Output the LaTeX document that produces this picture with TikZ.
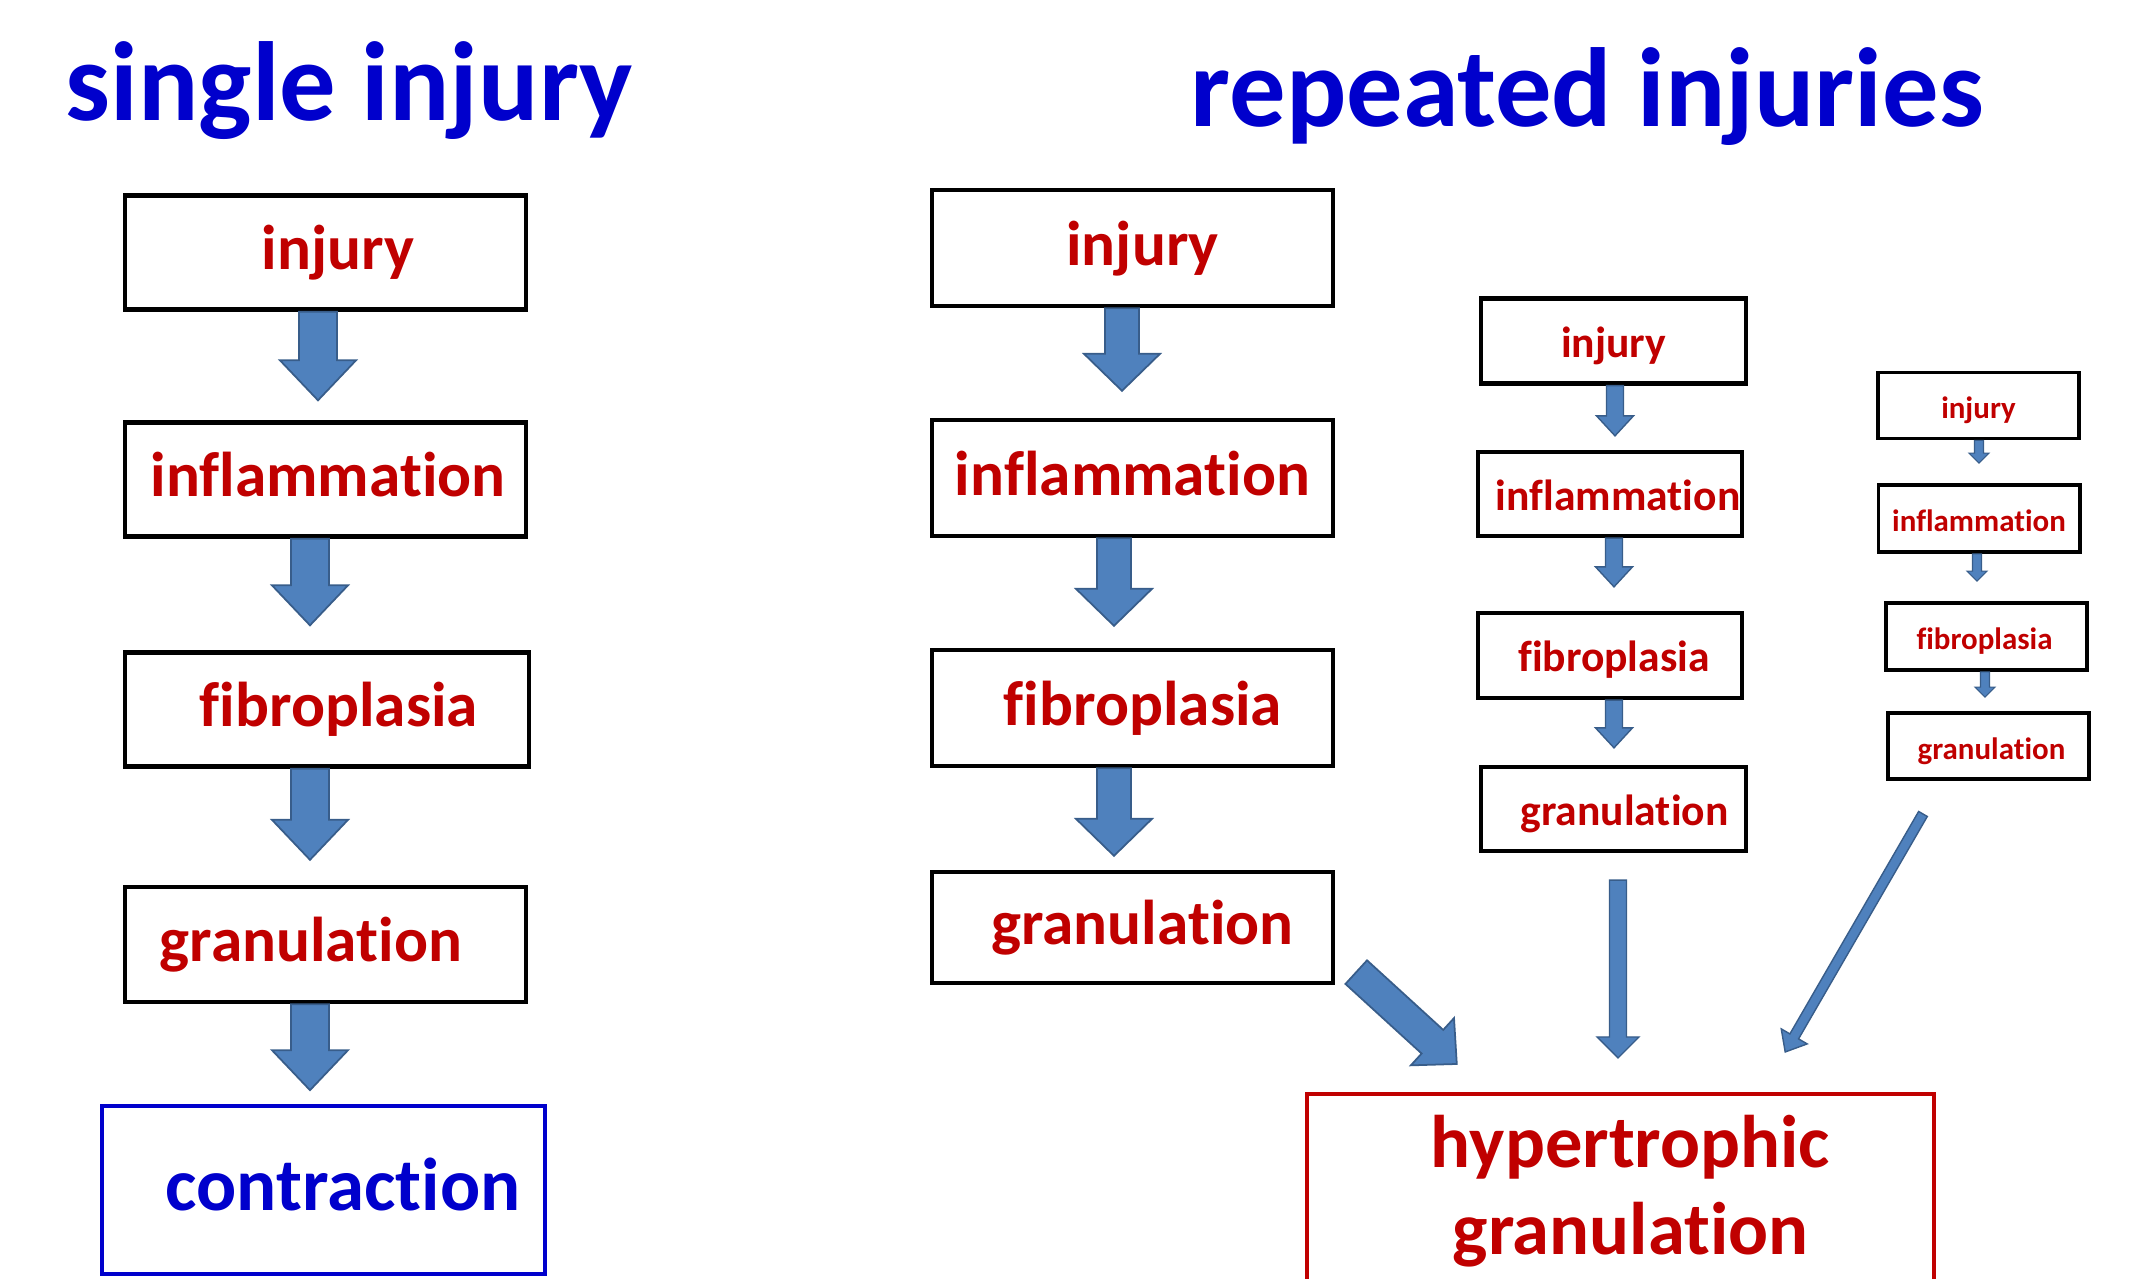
\documentclass[tikz,border=0pt]{standalone}
\usepackage{fontspec}
\setmainfont{Carlito}[Ligatures = NoCommon]
\usepackage{tikz}
\usetikzlibrary{calc}
\definecolor{ttlblue}{RGB}{0,0,204}
\definecolor{txtred}{RGB}{192,0,0}
\definecolor{arrfill}{RGB}{79,129,189}
\definecolor{arredge}{RGB}{56,93,138}

\begin{document}
\begin{tikzpicture}[
    x = 0.01cm, y = -0.01cm,
    ttl/.style = {inner sep = 0pt, text = ttlblue, font = \bfseries\fontsize{32}{38}\selectfont},
    bx/.style = {draw, line width = 1.2pt, inner sep = 0pt, text = txtred, font = \bfseries\fontsize{18}{21}\selectfont, text height = 1.13em, text depth = 0.15em, minimum width = 4.01cm, minimum height = 1.14cm},
    mb/.style = {bx, font = \bfseries\fontsize{12.4}{15}\selectfont, text height = 1.08em, minimum width = 2.65cm, minimum height = 0.85cm},
    sb/.style = {bx, line width = 1.1pt, font = \bfseries\fontsize{8.8}{10}\selectfont, text height = 0.95em, text depth = 0.2em, minimum width = 2.01cm, minimum height = 0.66cm},
    ts/.style = {execute at begin node = {\hspace*{#1}}},
    fa/.style n args = {4}{fill = arrfill, draw = arredge, line width = 0.5pt, line join = miter,
        to path = {
            ($(\tikztotarget)!#4!(\tikztostart)$) coordinate (tip)
            ($(tip)!#3!(\tikztostart)$) coordinate (neck)
            ($(\tikztostart)!#1!90:(tip)$) -- ($(neck)!#1!90:(tip)$) -- ($(neck)!#2!90:(tip)$) -- (tip)
            -- ($(neck)!#2!-90:(tip)$) -- ($(neck)!#1!-90:(tip)$) -- ($(\tikztostart)!#1!-90:(tip)$) -- cycle}},
    aL/.style = {fa = {0.19cm}{0.38cm}{0.40cm}{#1}},
    aR/.style = {fa = {0.17cm}{0.38cm}{0.37cm}{#1}},
    aM/.style = {fa = {0.085cm}{0.185cm}{0.20cm}{#1}, line width = 0.4pt},
    aS/.style = {fa = {0.045cm}{0.10cm}{0.10cm}{#1}, line width = 0.3pt},
    aF/.style = {fa = {0.16cm}{0.32cm}{0.33cm}{#1}},
    aV/.style = {fa = {0.085cm}{0.21cm}{0.21cm}{#1}, line width = 0.4pt},
    aD/.style = {fa = {0.05cm}{0.15cm}{0.18cm}{#1}, line width = 0.4pt},
]

\useasboundingbox (0,0) rectangle (2132,1279);
\clip (0,0) rectangle (2132,1279);

\node[ttl, anchor = base west] (tL) at (65,121) {single injury};
\node[ttl, anchor = base west] (tR) at (1190,127) {repeated injuries};

% single injury
\begin{scope}
\node[bx, ts = 0.25cm] (injL) at (325.5,252.5) {injury};
\node[bx, ts = 0.05cm] (infL) at (325.5,479.5) {inflammation};
\node[bx, ts = 0.24cm, minimum width = 4.04cm] (fibL) at (327,709.5) {fibroplasia};
\node[bx, ts = -0.29cm, minimum height = 1.15cm] (graL) at (325.5,944.5) {granulation};
\node[bx, draw = ttlblue, text = ttlblue, line width = 1pt, font = \bfseries\fontsize{21.3}{25}\selectfont, text height = 1.32em, minimum width = 4.43cm, minimum height = 1.68cm, ts = 0.39cm] (conL) at (323.5,1190) {contraction};
\draw[aL = 0.20cm] ([xshift = -0.075cm]injL.south) to ([xshift = -0.075cm]infL.north);
\draw[aL = 0.25cm] ([xshift = -0.155cm]infL.south) to ([xshift = -0.17cm]fibL.north);
\draw[aL = 0.25cm] ([xshift = -0.17cm]fibL.south) to ([xshift = -0.155cm]graL.north);
\draw[aL = 0.14cm] ([xshift = -0.155cm]graL.south) to ([xshift = -0.135cm]conL.north);
\end{scope}

% repeated injuries
\begin{scope}
\node[bx, ts = 0.2cm, minimum height = 1.16cm] (injR) at (1132.5,248) {injury};
\node[bx, minimum height = 1.16cm] (infR) at (1132.5,478) {inflammation};
\node[bx, ts = 0.21cm, minimum height = 1.16cm] (fibR) at (1132.5,708) {fibroplasia};
\node[bx, ts = 0.2cm, minimum height = 1.11cm] (graR) at (1132.5,927.5) {granulation};
\draw[aR = 0.27cm] ([xshift = -0.105cm]injR.south) to ([xshift = -0.105cm]infR.north);
\draw[aR = 0.22cm] ([xshift = -0.185cm]infR.south) to ([xshift = -0.185cm]fibR.north);
\draw[aR = 0.14cm] ([xshift = -0.185cm]fibR.south) to ([xshift = -0.185cm]graR.north);

\node[mb] (injM) at (1613.5,341) {injury};
\node[mb, ts = 0.16cm, minimum width = 2.64cm, minimum height = 0.84cm] (infM) at (1610,494) {inflammation};
\node[mb, ts = 0.08cm, minimum width = 2.64cm] (fibM) at (1610,655.5) {fibroplasia};
\node[mb, ts = 0.22cm, minimum height = 0.84cm] (graM) at (1613.5,809) {granulation};
\draw[aM = 0.14cm] ([xshift = 0.015cm]injM.south) to ([xshift = 0.05cm]infM.north);
\draw[aM = 0.24cm] ([xshift = 0.04cm]infM.south) to ([xshift = 0.04cm]fibM.north);
\draw[aM = 0.17cm] ([xshift = 0.04cm]fibM.south) to ([xshift = 0.005cm]graM.north);

\node[sb] (injS) at (1978.5,405.5) {injury};
\node[sb, minimum height = 0.67cm] (infS) at (1979,518.5) {inflammation};
\node[sb, ts = -0.04cm, minimum height = 0.67cm] (fibS) at (1986.5,636.5) {fibroplasia};
\node[sb, ts = 0.06cm] (graS) at (1988.5,746) {granulation};
\draw[aS = 0.20cm] ([xshift = 0.005cm]injS.south) to (infS.north);
\draw[aS = 0.20cm] ([xshift = -0.02cm]infS.south) to ([xshift = -0.095cm]fibS.north);
\draw[aS = 0.14cm] ([xshift = -0.015cm]fibS.south) to ([xshift = -0.035cm]graS.north);

\node[draw = txtred, line width = 1.2pt, text = txtred, font = \bfseries\fontsize{21.2}{25}\selectfont, align = center, minimum width = 6.27cm, minimum height = 1.94cm, anchor = north] (hg) at (1620.5,1092) {\hspace*{0.2cm}hypertrophic\\\hspace*{0.2cm}granulation};
\draw[aF = 0cm] ([xshift = 0.21cm, yshift = 0.13cm]graR.south east) to ([xshift = 1.52cm, yshift = 0.28cm]hg.north west);
\draw[aV = 0.34cm] ([xshift = 0.045cm, yshift = -0.27cm]graM.south) to ([xshift = -0.025cm]hg.north);
\draw[aD = 0cm] ([xshift = -0.655cm, yshift = -0.33cm]graS.south) to ([xshift = -1.51cm, yshift = 0.40cm]hg.north east);
\end{scope}

\end{tikzpicture}
\end{document}
